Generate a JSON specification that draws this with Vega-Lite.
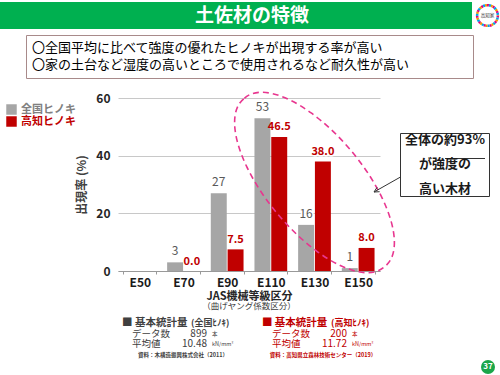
{
  "$schema": "https://vega.github.io/schema/vega-lite/v6.json",
  "background": "white",
  "padding": 0,
  "spacing": 0,
  "resolve": {"scale": {"color": "independent"}, "legend": {"color": "independent"}},
  "config": {
    "font": "Noto Sans CJK JP",
    "view": {"stroke": null}
  },
  "vconcat": [
    {
      "bounds": "flush",
      "spacing": 0,
      "hconcat": [
        {
          "width": 472,
          "height": 27,
          "view": {"fill": "#00b050", "stroke": null},
          "data": {"values": [{"t": "土佐材の特徴"}]},
          "mark": {"type": "text", "color": "white", "fontSize": 19, "fontWeight": "bold", "dx": 16, "baseline": "middle"},
          "encoding": {"text": {"field": "t"}}
        },
        {"width": 3, "height": 1, "data": {"values": []}, "mark": "point"},
        {
          "width": 25,
          "height": 27,
          "data": {"values": [{"t": "高知家"}]},
          "layer": [
            {"mark": {"type": "point", "shape": "circle", "size": 430, "filled": false, "stroke": "#e4007f", "strokeWidth": 2.5, "strokeDash": [2, 4], "opacity": 1}, "encoding": {}},
            {"mark": {"type": "point", "shape": "circle", "size": 430, "filled": false, "stroke": "#f39800", "strokeWidth": 2.5, "strokeDash": [2, 4], "strokeDashOffset": 2, "opacity": 1}, "encoding": {}},
            {"mark": {"type": "point", "shape": "circle", "size": 430, "filled": false, "stroke": "#00a0e9", "strokeWidth": 2.5, "strokeDash": [2, 4], "strokeDashOffset": 4, "opacity": 1}, "encoding": {}},
            {"mark": {"type": "text", "fontSize": 4.5, "color": "#333333"}, "encoding": {"text": {"field": "t"}}}
          ]
        }
      ]
    },
    {"width": 1, "height": 3, "data": {"values": []}, "mark": "point"},
    {
      "bounds": "flush",
      "spacing": 0,
      "hconcat": [
        {"width": 26, "height": 1, "data": {"values": []}, "mark": "point"},
        {
          "width": 447,
          "height": 43,
          "view": {"stroke": "#a88a8a", "strokeWidth": 1},
          "data": {"values": [
            {"n": 1, "t": "〇全国平均に比べて強度の優れたヒノキが出現する率が高い"},
            {"n": 2, "t": "〇家の土台など湿度の高いところで使用されるなど耐久性が高い"}
          ]},
          "mark": {"type": "text", "align": "left", "fontSize": 13, "color": "#000000"},
          "encoding": {
            "x": {"value": 6},
            "y": {"field": "n", "type": "ordinal", "axis": null, "scale": {"type": "point", "padding": 0.7}},
            "text": {"field": "t"}
          }
        }
      ]
    },
    {"width": 1, "height": 10, "data": {"values": []}, "mark": "point"},
    {
      "bounds": "flush",
      "spacing": 0,
      "hconcat": [
        {"width": 118, "height": 1, "data": {"values": []}, "mark": "point"},
        {
          "width": 262,
          "height": 173,
          "title": {"text": "（曲げヤング係数区分）", "orient": "bottom", "anchor": "middle", "frame": "group", "fontSize": 8.5, "fontWeight": "normal", "color": "#404040", "offset": 1},
          "data": {"values": [
            {"cat": "E50", "s": "全国ヒノキ", "v": 0, "label": ""},
            {"cat": "E50", "s": "高知ヒノキ", "v": 0, "label": ""},
            {"cat": "E70", "s": "全国ヒノキ", "v": 3, "label": "3"},
            {"cat": "E70", "s": "高知ヒノキ", "v": 0, "label": "0.0"},
            {"cat": "E90", "s": "全国ヒノキ", "v": 27, "label": "27"},
            {"cat": "E90", "s": "高知ヒノキ", "v": 7.5, "label": "7.5"},
            {"cat": "E110", "s": "全国ヒノキ", "v": 53, "label": "53"},
            {"cat": "E110", "s": "高知ヒノキ", "v": 46.5, "label": "46.5"},
            {"cat": "E130", "s": "全国ヒノキ", "v": 16, "label": "16"},
            {"cat": "E130", "s": "高知ヒノキ", "v": 38.0, "label": "38.0"},
            {"cat": "E150", "s": "全国ヒノキ", "v": 1, "label": "1"},
            {"cat": "E150", "s": "高知ヒノキ", "v": 8.0, "label": "8.0"}
          ]},
          "encoding": {
            "x": {
              "field": "cat", "type": "nominal",
              "sort": ["E50", "E70", "E90", "E110", "E130", "E150"],
              "scale": {"paddingInner": 0.25, "paddingOuter": 0.125},
              "axis": {
                "title": "JAS機械等級区分", "labelAngle": 0, "labelFontSize": 12, "labelFontWeight": "bold",
                "labelColor": "#1a1a1a", "domainColor": "#999999", "tickColor": "#999999", "tickSize": 3,
                "tickBand": "extent", "labelPadding": 3, "titleFontSize": 11, "titleFontWeight": "bold",
                "titleColor": "#262626", "titlePadding": 2, "grid": false
              }
            }
          },
          "layer": [
            {
              "encoding": {
                "xOffset": {"field": "s", "type": "nominal", "sort": ["全国ヒノキ", "高知ヒノキ"], "scale": {"paddingInner": 0.05}},
                "y": {
                  "field": "v", "type": "quantitative",
                  "scale": {"domain": [0, 60], "nice": false},
                  "axis": {
                    "values": [0, 10, 20, 30, 40, 50, 60], "grid": true, "gridColor": "#c8c8c8", "domain": false,
                    "ticks": false, "labelFontSize": 12, "labelFontWeight": "bold", "labelColor": "#262626",
                    "labelPadding": 8, "title": "出現率 (%)", "titleFontSize": 12, "titleFontWeight": "bold",
                    "titleColor": "#404040", "titlePadding": 7
                  }
                },
                "text": {"field": "label"}
              },
              "layer": [
                {"transform": [{"filter": "datum.s === '全国ヒノキ'"}], "mark": {"type": "text", "dy": -11, "fontSize": 12, "fill": "white", "stroke": "white", "strokeWidth": 3}},
                {"transform": [{"filter": "datum.s === '高知ヒノキ'"}], "mark": {"type": "text", "dy": -9.5, "fontSize": 11, "fontWeight": "bold", "fill": "white", "stroke": "white", "strokeWidth": 3}},
                {
                  "mark": {"type": "bar"},
                  "encoding": {
                    "color": {
                      "field": "s", "type": "nominal",
                      "scale": {"domain": ["全国ヒノキ", "高知ヒノキ"], "range": ["#a6a6a6", "#c00000"]},
                      "legend": {
                        "title": null, "orient": "top-left", "offset": 6, "symbolType": "square", "symbolSize": 110,
                        "symbolStrokeWidth": 0, "labelFontSize": 11, "labelFontWeight": "bold", "rowPadding": 0,
                        "encode": {"labels": {"update": {"fill": {"signal": "datum.value === '高知ヒノキ' ? '#c00000' : '#808080'"}}}}
                      }
                    }
                  }
                },
                {"transform": [{"filter": "datum.s === '全国ヒノキ'"}], "mark": {"type": "text", "dy": -11, "fontSize": 12, "color": "#595959"}},
                {"transform": [{"filter": "datum.s === '高知ヒノキ'"}], "mark": {"type": "text", "dy": -9.5, "fontSize": 11, "fontWeight": "bold", "color": "#c00000"}}
              ]
            },
            {
              "data": {"values": [{"cat": "E130", "v": 30.7}]},
              "mark": {
                "type": "point",
                "shape": "M -0.64 -0.768 A 1 0.432 50.2 1 1 0.64 0.768 A 1 0.432 50.2 1 1 -0.64 -0.768 Z",
                "size": 48050, "filled": false, "stroke": "#e8368f",
                "strokeWidth": 1.6, "strokeDash": [6, 4], "opacity": 1
              },
              "encoding": {"y": {"field": "v", "type": "quantitative"}}
            }
          ]
        },
        {"width": 20, "height": 1, "data": {"values": []}, "mark": "point"},
        {
          "width": 90,
          "height": 99,
          "data": {"values": [
            {"n": 1, "t": "全体の約93%"},
            {"n": 2, "t": "が強度の"},
            {"n": 3, "t": "高い木材"}
          ]},
          "layer": [
            {
              "data": {"values": [{"a": 1}]},
              "mark": {
                "type": "point",
                "shape": "M -4.45 -1.4 L 4.45 -1.4 L 4.45 4.9 L -4.45 4.9 Z M -4.45 2.95 L -7.1 4.45 M -6.54 4.42 L -7.1 4.45 L -6.79 3.98 M 0 1.1 L 4.0 1.1",
                "size": 400, "filled": false, "stroke": "#333333", "strokeWidth": 1, "opacity": 1
              },
              "encoding": {}
            },
            {
              "mark": {"type": "text", "fontSize": 13, "fontWeight": "bold", "color": "#1a1a1a"},
              "encoding": {
                "y": {"field": "n", "type": "ordinal", "axis": null, "scale": {"type": "point", "padding": 1.83, "align": 0.84}},
                "text": {"field": "t"}
              }
            }
          ]
        }
      ]
    },
    {"width": 1, "height": 7, "data": {"values": []}, "mark": "point"},
    {
      "bounds": "flush",
      "spacing": 0,
      "hconcat": [
        {"width": 121, "height": 1, "data": {"values": []}, "mark": "point"},
        {
          "width": 264,
          "height": 42,
          "data": {"values": [
            {"g": "全国", "line": "h", "k": "h", "t": "■ 基本統計量"},
            {"g": "全国", "line": "h", "k": "hs", "t": "(全国ﾋﾉｷ)"},
            {"g": "全国", "line": "n", "k": "lab", "t": "データ数"},
            {"g": "全国", "line": "n", "k": "val", "t": "899"},
            {"g": "全国", "line": "n", "k": "unit", "t": "本"},
            {"g": "全国", "line": "m", "k": "lab", "t": "平均値"},
            {"g": "全国", "line": "m", "k": "val", "t": "10.48"},
            {"g": "全国", "line": "m", "k": "unit", "t": "kN/mm²"},
            {"g": "全国", "line": "s", "k": "src", "t": "資料：木構造振興株式会社（2011）"},
            {"g": "高知", "line": "h", "k": "h", "t": "■ 基本統計量"},
            {"g": "高知", "line": "h", "k": "hs", "t": "(高知ﾋﾉｷ)"},
            {"g": "高知", "line": "n", "k": "lab", "t": "データ数"},
            {"g": "高知", "line": "n", "k": "val", "t": "200"},
            {"g": "高知", "line": "n", "k": "unit", "t": "本"},
            {"g": "高知", "line": "m", "k": "lab", "t": "平均値"},
            {"g": "高知", "line": "m", "k": "val", "t": "11.72"},
            {"g": "高知", "line": "m", "k": "unit", "t": "kN/mm²"},
            {"g": "高知", "line": "s", "k": "src", "t": "資料：高知県立森林技術センター（2019）"}
          ]},
          "encoding": {
            "x": {"field": "g", "type": "nominal", "sort": ["全国", "高知"], "axis": null, "scale": {"type": "band", "paddingInner": 0.114, "paddingOuter": 0}, "bandPosition": 0},
            "y": {"field": "line", "type": "ordinal", "sort": ["h", "n", "m", "s"], "axis": null, "scale": {"type": "point", "padding": 0.5}},
            "color": {"field": "g", "type": "nominal", "scale": {"domain": ["全国", "高知"], "range": ["#404040", "#c00000"]}, "legend": null},
            "text": {"field": "t"}
          },
          "layer": [
            {"transform": [{"filter": "datum.k === 'h'"}], "mark": {"type": "text", "align": "left", "dx": 1, "fontSize": 10.5, "fontWeight": "bold"}},
            {"transform": [{"filter": "datum.k === 'hs'"}], "mark": {"type": "text", "align": "left", "dx": 70, "fontSize": 9, "fontWeight": "bold"}},
            {"transform": [{"filter": "datum.k === 'lab'"}], "mark": {"type": "text", "align": "left", "dx": 11, "fontSize": 9.5}},
            {"transform": [{"filter": "datum.k === 'val'"}], "mark": {"type": "text", "align": "right", "dx": 86, "fontSize": 10}},
            {"transform": [{"filter": "datum.k === 'unit'"}], "mark": {"type": "text", "align": "left", "dx": 91, "fontSize": 5.5}},
            {"transform": [{"filter": "datum.k === 'src'"}], "mark": {"type": "text", "align": "center", "dx": 62, "fontSize": 5.5, "fontWeight": "bold"}}
          ]
        }
      ]
    },
    {
      "bounds": "flush",
      "spacing": 0,
      "hconcat": [
        {"width": 481, "height": 1, "data": {"values": []}, "mark": "point"},
        {
          "width": 14,
          "height": 14,
          "data": {"values": [{"p": "37"}]},
          "layer": [
            {"mark": {"type": "point", "shape": "circle", "size": 196, "filled": true, "color": "#1aa64a", "opacity": 1}, "encoding": {}},
            {"mark": {"type": "text", "color": "white", "fontSize": 8, "fontWeight": "bold"}, "encoding": {"text": {"field": "p"}}}
          ]
        }
      ]
    }
  ]
}
